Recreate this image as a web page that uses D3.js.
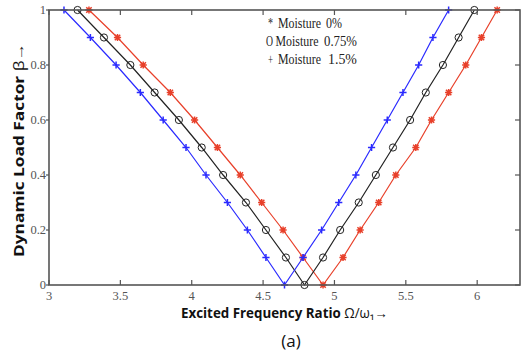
<!DOCTYPE html>
<html>
<head>
<meta charset="utf-8">
<script src="https://cdn.jsdelivr.net/npm/d3@7"></script>
<style>
  body { margin: 0; background: #fff; }
</style>
</head>
<body>
<div id="chart"></div>
<script>
// beta values along each V (descending side then rising side)
var beta = [1, 0.9, 0.8, 0.7, 0.6, 0.5, 0.4, 0.3, 0.2, 0.1, 0, 0.1, 0.2, 0.3, 0.4, 0.5, 0.6, 0.7, 0.8, 0.9, 1];

// frequency ratio for each moisture level
var ratio0 = [3.28, 3.48, 3.66, 3.85, 4.02, 4.18, 4.34, 4.49, 4.64, 4.78, 4.92,
              5.06, 5.18, 5.31, 5.43, 5.57, 5.68, 5.80, 5.92, 6.03, 6.14];
var ratio075 = [3.20, 3.385, 3.57, 3.74, 3.91, 4.07, 4.22, 4.38, 4.52, 4.66, 4.79,
                4.92, 5.04, 5.17, 5.29, 5.41, 5.53, 5.64, 5.76, 5.87, 5.98];
var ratio15 = [3.105, 3.29, 3.47, 3.64, 3.80, 3.96, 4.10, 4.25, 4.39, 4.52, 4.65,
               4.78, 4.91, 5.03, 5.15, 5.26, 5.37, 5.48, 5.59, 5.69, 5.80];

var xTicks = [3, 3.5, 4, 4.5, 5, 5.5, 6];
var yTicks = [0, 0.2, 0.4, 0.6, 0.8, 1];
var legendSymbols = ["*", "O", "+"];
var legendValues = ["0%", "0.75%", "1.5%"];

var serif = '"Liberation Serif", "Times New Roman", "DejaVu Serif", serif';
var condensed = '"Liberation Sans Narrow", "Open Sans", "Liberation Sans", sans-serif';

var width = 521, height = 358;
var plot = { left: 49, right: 520, top: 10, bottom: 285 };

var x = d3.scaleLinear().domain([3, 6.3]).range([plot.left, plot.right]);
var y = d3.scaleLinear().domain([0, 1]).range([plot.bottom, plot.top]);

var svg = d3.select('#chart').append('svg')
    .attr('width', width)
    .attr('height', height);

// squeeze a text horizontally so it is w pixels wide, starting at (px, py)
function squeezed(parent, px, py, w, rotate) {
    var g = parent.append('g');
    var t = g.append('text').attr('x', 0).attr('y', 0);
    return {
        text: t,
        fit: function() {
            var natural = t.node().getComputedTextLength();
            var s = w / natural;
            g.attr('transform', 'translate(' + px + ',' + py + ')' +
                (rotate ? ' rotate(-90)' : '') + ' scale(' + s + ',1)');
        }
    };
}

var series = [
    { xs: ratio0, color: '#e8402a', marker: 'star' },
    { xs: ratio075, color: '#222', marker: 'circle' },
    { xs: ratio15, color: '#2a2aff', marker: 'plus' }
];

var line = d3.line()
    .x(function(d) { return x(d[0]); })
    .y(function(d) { return y(d[1]); });

series.forEach(function(s) {
    var pts = s.xs.map(function(v, i) { return [v, beta[i]]; });

    svg.append('path')
        .datum(pts)
        .attr('d', line)
        .attr('fill', 'none')
        .attr('stroke', s.color)
        .attr('stroke-width', 1.2);

    var g = svg.append('g');
    pts.forEach(function(p) {
        var cx = x(p[0]), cy = y(p[1]);
        if (s.marker == 'circle') {
            g.append('circle')
                .attr('cx', cx).attr('cy', cy).attr('r', 3.6)
                .attr('fill', 'none').attr('stroke', s.color).attr('stroke-width', 1);
        } else {
            var r = 3.6;
            var d = 'M' + (cx - r) + ',' + cy + 'H' + (cx + r) +
                    'M' + cx + ',' + (cy - r) + 'V' + (cy + r);
            if (s.marker == 'star') {
                var q = r * 0.75;
                d += 'M' + (cx - q) + ',' + (cy - q) + 'L' + (cx + q) + ',' + (cy + q) +
                     'M' + (cx - q) + ',' + (cy + q) + 'L' + (cx + q) + ',' + (cy - q);
            }
            g.append('path').attr('d', d)
                .attr('stroke', s.color).attr('stroke-width', 1.5).attr('fill', 'none');
        }
    });
});

// frame
svg.append('rect')
    .attr('x', plot.left).attr('y', plot.top)
    .attr('width', plot.right - plot.left).attr('height', plot.bottom - plot.top)
    .attr('fill', 'none').attr('stroke', '#555').attr('stroke-width', 1.6);

// ticks, inward on the box
xTicks.forEach(function(t) {
    svg.append('line').attr('x1', x(t)).attr('x2', x(t))
        .attr('y1', plot.bottom).attr('y2', plot.bottom - 5)
        .attr('stroke', '#555').attr('stroke-width', 1.2);
    svg.append('line').attr('x1', x(t)).attr('x2', x(t))
        .attr('y1', plot.top).attr('y2', plot.top + 5)
        .attr('stroke', '#555').attr('stroke-width', 1.2);
    svg.append('text')
        .attr('x', x(t)).attr('y', plot.bottom + 15)
        .attr('text-anchor', 'middle')
        .style('font-family', serif).style('font-size', '12.5px').style('fill', '#555')
        .text(d3.format('~g')(t));
});

yTicks.forEach(function(t) {
    svg.append('line').attr('x1', plot.left - 3).attr('x2', plot.left)
        .attr('y1', y(t)).attr('y2', y(t))
        .attr('stroke', '#555').attr('stroke-width', 1.2);
    svg.append('line').attr('x1', plot.right).attr('x2', plot.right - 5)
        .attr('y1', y(t)).attr('y2', y(t))
        .attr('stroke', '#555').attr('stroke-width', 1.2);
    svg.append('text')
        .attr('x', plot.left - 3).attr('y', y(t) + 4)
        .attr('text-anchor', 'end')
        .style('font-family', serif).style('font-size', '12.5px').style('fill', '#555')
        .text(d3.format('~g')(t));
});

// legend (plain text, no box), narrowed to match the figure
var valueX = [326, 324, 328];
var valueWidths = [16, 33, 29];
legendSymbols.forEach(function(sym, i) {
    var ly = 28 + i * 18;
    var pieces = [
        [sym == 'O' ? 266 : 268, sym == 'O' ? 7 : 5, sym],
        [sym == 'O' ? 275.5 : 278, 43, 'Moisture'],
        [valueX[i], valueWidths[i], legendValues[i]]
    ];
    pieces.forEach(function(pc) {
        var lt = squeezed(svg, pc[0], ly, pc[1], false);
        lt.text.style('font-family', serif).style('font-size', '14px').style('fill', '#222')
            .text(pc[2]);
        lt.fit();
    });
});

// axis titles
var xt = squeezed(svg, 181, 318, 207, false);
xt.text.style('font-family', condensed).style('font-weight', 'bold')
    .style('font-size', '14px').style('fill', '#111')
    .html('Excited Frequency Ratio <tspan font-weight="normal">\u03A9/\u03C9\u2081\u2192</tspan>');
xt.fit();

var yt = squeezed(svg, 24, 257, 214, true);
yt.text.style('font-family', condensed).style('font-weight', 'bold')
    .style('font-size', '14px').style('fill', '#111')
    .html('Dynamic Load Factor <tspan font-weight="normal">\u03B2\u2192</tspan>');
yt.fit();

svg.append('text')
    .attr('x', 291).attr('y', 347)
    .attr('text-anchor', 'middle')
    .style('font-family', '"Open Sans", "DejaVu Sans", sans-serif')
    .style('font-size', '17px')
    .style('fill', '#111')
    .text('(a)');
</script>
</body>
</html>
